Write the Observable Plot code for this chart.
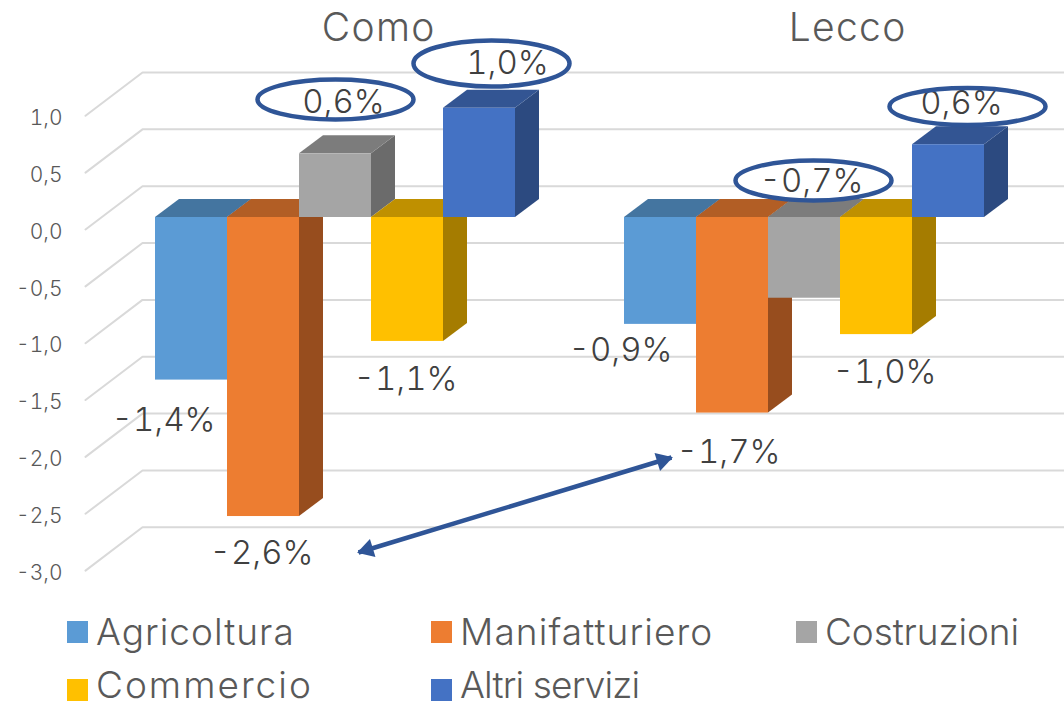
<!DOCTYPE html>
<html><head><meta charset="utf-8">
<script src="https://cdn.jsdelivr.net/npm/d3@7"></script>
<script src="https://cdn.jsdelivr.net/npm/@observablehq/plot@0.6"></script>
<style>
html,body{margin:0;padding:0;background:#fff;overflow:hidden}
#wrap{position:relative;width:1064px;height:707px;font-family:Inter,sans-serif}
#legend{position:absolute;left:0;top:0;width:1064px;height:707px;pointer-events:none}
.it{position:absolute;display:flex;align-items:center;color:#595959;font-size:37px;font-weight:300;line-height:.85;white-space:nowrap}
.sw{display:inline-block;width:21px;height:22px;margin-right:8px}
.wide{letter-spacing:1.3px}
</style></head><body><div id="wrap"></div>
<script>
const places = ["Como", "Lecco"];
const sectors = ["Agricoltura", "Manifatturiero", "Costruzioni", "Commercio", "Altri servizi"];
const comoValues = [-1.43, -2.63, 0.56, -1.09, 0.96];
const leccoValues = [-0.94, -1.72, -0.71, -1.03, 0.64];
const axisTicks = [1, 0.5, 0, -0.5, -1, -1.5, -2, -2.5, -3];
const frontColors = ["#5B9BD5", "#ED7D31", "#A5A5A5", "#FFC000", "#4472C4"];
const topColors = ["#4475A0", "#B25E25", "#7C7C7C", "#BF9000", "#335593"];
const sideColors = ["#44709A", "#974D1E", "#6B6B6B", "#A57C00", "#2C4A80"];

// layout
const W = 1064, H = 607, mL = 62;
const unit = 113.7, slot = 72, x0 = 155, y0 = 217;
const px = p => p / unit;            // pixels -> value units
const sx = p => (p - x0) / slot;     // page x -> slot units
const sy = p => (y0 - p) / unit;     // page y -> value units
const groupStart = [0, sx(624)];
const depthX = 24 / slot, depthY = px(18);
const labelNudge = [
  [[-28, 40], [-2, 37], [8, -51], [-2, 38], [28, -45]],
  [[-40, 26], [-4, 39], [7, -117], [8, 38], [13, -41]]
];
const ringBox = [[null, null, [335, 99, 20], null, [491, 63, 23]], [null, null, [813, 180, 20], null, [967, 106, 18.5]]];

const ringSymbol = ratio => ({draw(c, size) {
  const rx = Math.sqrt(size / Math.PI), ry = rx * ratio, k = 0.5523;
  c.moveTo(-rx, 0);
  c.bezierCurveTo(-rx, -k * ry, -k * rx, -ry, 0, -ry);
  c.bezierCurveTo(k * rx, -ry, rx, -k * ry, rx, 0);
  c.bezierCurveTo(rx, k * ry, k * rx, ry, 0, ry);
  c.bezierCurveTo(-k * rx, ry, -rx, k * ry, -rx, 0);
  c.closePath();
}});

const bars = [comoValues, leccoValues].flatMap((vals, g) => vals.map((v, i) => ({
  g, i, v, a: groupStart[g] + i, b: groupStart[g] + i + 1,
  lo: Math.min(0, v), hi: Math.max(0, v),
  label: d3.format(".1f")(v).replace(".", ",").replace("−", "-") + "%",
  nudge: labelNudge[g][i], ring: ringBox[g][i]
})));

const barMarks = bars.flatMap(d => [
  Plot.area([{x: d.b, lo: d.lo, hi: d.hi}, {x: d.b + depthX, lo: d.lo + depthY, hi: d.hi + depthY}],
    {x1: "x", y1: "lo", x2: "x", y2: "hi", fill: sideColors[d.i]}),
  Plot.area([{a: d.a, b: d.b, y: d.hi}, {a: d.a + depthX, b: d.b + depthX, y: d.hi + depthY}],
    {x1: "a", y1: "y", x2: "b", y2: "y", fill: topColors[d.i]}),
  Plot.rect([d], {x1: "a", x2: "b", y1: "lo", y2: "hi", fill: frontColors[d.i]})
]);

const gridMarks = axisTicks.map(t => Plot.line(
  [{x: sx(85), y: t - px(12)}, {x: sx(142), y: t + px(31.3)}, {x: sx(1066), y: t + px(31.3)}],
  {x: "x", y: "y", stroke: "#D9D9D9", strokeWidth: 2}));

const rings = bars.filter(d => d.ring);
const ringMarks = (fill, stroke, strokeWidth) => rings.map(d => Plot.dot([d], {
  x: e => sx(e.ring[0]), y: e => sy(e.ring[1]), symbol: ringSymbol(d.ring[2] / 78), r: 78, fill, stroke, strokeWidth}));
const labelFont = {fontFamily: "Inter", fontWeight: 300, fontSize: 33, fontVariant: "tabular-nums", fill: "#404040"};

const arrowFrom = {x: sx(358), y: sy(552)}, arrowTo = {x: sx(671), y: sy(457)};

const chart = Plot.plot({
  width: W, height: H, marginLeft: mL, marginRight: 0, marginTop: 0, marginBottom: 0,
  x: {domain: [sx(mL), sx(W)], axis: null},
  y: {domain: [sy(H), sy(0)], axis: null},
  marks: [
    ...gridMarks,
    Plot.axisY(axisTicks, {anchor: "left", tickSize: 0, tickPadding: 0, label: null, dy: 14.5,
      tickFormat: t => d3.format(".1f")(t).replace(".", ",").replace("−", "-"),
      fontFamily: "Inter", fontWeight: 300, fontSize: 21, fill: "#595959"}),
    ...barMarks,
    Plot.text(places, {x: (d, i) => groupStart[i] + 3.1, y: sy(28), text: d => d, className: "wide",
      fontFamily: "Inter", fontWeight: 300, fontSize: 39, fill: "#595959"}),
    ...ringMarks("#fff", "none", 0),
    Plot.text(bars, {x: d => (d.a + d.b) / 2 + d.nudge[0] / slot, y: d => d.v - px(d.nudge[1]), text: "label", ...labelFont}),
    ...ringMarks("none", "#2F5597", 4.5),
    Plot.link([0], {x1: arrowFrom.x, y1: arrowFrom.y, x2: arrowTo.x, y2: arrowTo.y, stroke: "#2F5597", strokeWidth: 4.5}),
    Plot.dot([arrowFrom], {x: "x", y: "y", symbol: "triangle2", r: 9, fill: "#2F5597", rotate: -107, dx: 9, dy: -3}),
    Plot.dot([arrowTo], {x: "x", y: "y", symbol: "triangle2", r: 9, fill: "#2F5597", rotate: 73, dx: -9, dy: 3})
  ]
});
const wrap = document.getElementById("wrap");
wrap.appendChild(chart);

const legendPlaces = [[67, 632], [431, 632], [796, 632], [67, 685], [431, 685]];
const legendSpacing = [1, 1.1, -0.1, 2, -0.85];
const swatchShift = [0, 0, 0, 5, 5];
const legend = document.createElement("div"); legend.id = "legend";
sectors.forEach((s, i) => {
  const it = document.createElement("div"); it.className = "it";
  it.style.left = legendPlaces[i][0] + "px";
  it.style.top = (legendPlaces[i][1] - 16) + "px";
  it.style.height = "32px";
  it.style.letterSpacing = legendSpacing[i] + "px";
  const sw = document.createElement("span"); sw.className = "sw"; sw.style.background = frontColors[i];
  sw.style.transform = `translateY(${swatchShift[i]}px)`;
  it.append(sw, s);
  legend.appendChild(it);
});
wrap.appendChild(legend);
</script></body></html>
